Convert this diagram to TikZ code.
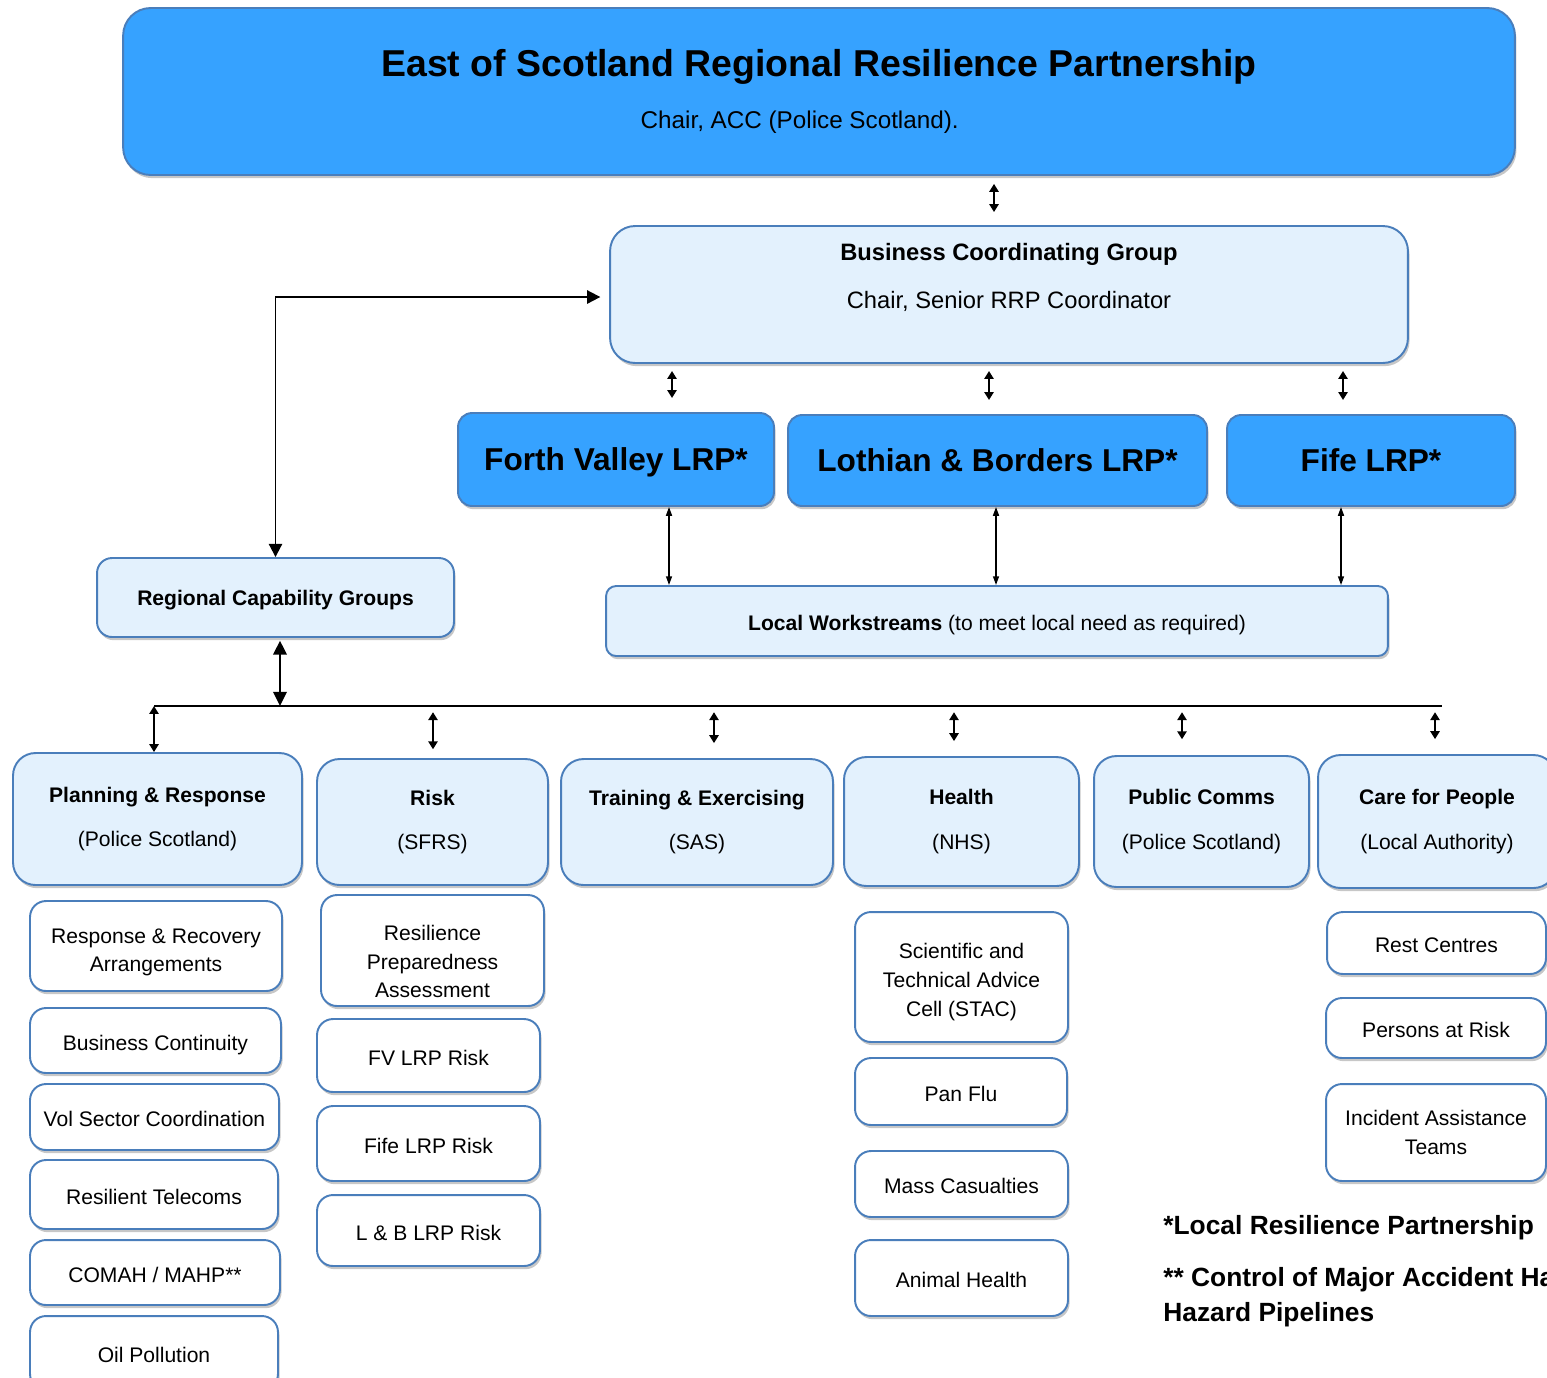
\documentclass[tikz,border=0pt]{standalone}
\usepackage{fontspec}
\setmainfont{Liberation Sans}
\usepackage{tikz}
\usetikzlibrary{arrows.meta,shadows}

\definecolor{darkfill}{HTML}{36A2FF}
\definecolor{lightfill}{HTML}{E3F1FD}
\definecolor{boxline}{HTML}{4A7EBB}

\tikzset{
	box/.style={draw=boxline, line width=1.1pt, align=center, inner sep=0pt,
		drop shadow={shadow xshift=0.9pt, shadow yshift=-1.8pt, fill=black!22, opacity=1},
		font=\fontsize{12}{16.3}\selectfont},
	topbox/.style={box, fill=darkfill},
	lrpbox/.style={box, fill=darkfill, rounded corners=0.28cm, text height=12.9pt, text depth=0pt,
		font=\fontsize{18}{21}\selectfont\bfseries},
	groupbox/.style={box, fill=lightfill, rounded corners=0.45cm},
	taskbox/.style={box, fill=white, rounded corners=0.32cm},
	oneline/.style={text height=11pt, text depth=0pt},
	twoway/.style={>={Triangle[length=4.5pt,width=5.2pt]}, <->, line width=1.4pt},
	thinway/.style={>={Triangle[length=5pt,width=3.4pt]}, <->, line width=0.85pt},
	bigway/.style={>={Triangle[length=8pt,width=7.5pt]}, <->, line width=1.6pt},
	footnote/.style={inner sep=0pt, align=left, font=\fontsize{15}{20}\selectfont\bfseries}
}

\begin{document}
\begin{tikzpicture}[x=0.02cm, y=-0.02cm]
			\useasboundingbox (0,0) rectangle (1547,1377);
			\clip (0,0) rectangle (1547,1377);

			\node[topbox, rounded corners=0.55cm, minimum width=27.84cm, minimum height=3.34cm, font=\fontsize{13.8}{16}\selectfont] (ersp) at (819,91.5)
				{{\fontsize{21.3}{25}\selectfont\bfseries East of Scotland Regional Resilience Partnership}\\[14pt]\hspace*{-22pt}Chair, ACC (Police Scotland).};
			\node[groupbox, rounded corners=0.5cm, minimum width=15.96cm, minimum height=2.74cm, font=\fontsize{13.5}{16}\selectfont] (bcg) at (1009,294.5)
				{\textbf{Business Coordinating Group}\\[11pt]Chair, Senior RRP Coordinator\\[5pt]\mbox{}};

			\node[lrpbox, minimum width=6.32cm, minimum height=1.86cm] (fv) at (616,459.5) {Forth Valley LRP*};
			\node[lrpbox, minimum width=8.38cm, minimum height=1.82cm] (lb) at (997.5,460.5) {Lothian \& Borders LRP*};
			\node[lrpbox, minimum width=5.76cm, minimum height=1.82cm] (fife) at (1371,460.5) {Fife LRP*};

			\node[groupbox, oneline, rounded corners=0.2cm, minimum width=15.64cm, minimum height=1.4cm] (lw) at (997,621)
				{\textbf{Local Workstreams} (to meet local need as required)};
			\node[groupbox, text height=9pt, text depth=0pt, rounded corners=0.3cm, minimum width=7.14cm, minimum height=1.58cm] (rcg) at (275.5,597.5)
				{\textbf{Regional Capability Groups}};

			\node[groupbox, minimum width=5.78cm, minimum height=2.64cm] (pr) at (157.5,819) {\textbf{Planning \& Response}\\[9pt](Police Scotland)};
			\node[groupbox, minimum width=4.62cm, minimum height=2.52cm] (risk) at (432.5,822) {\textbf{Risk}\\[9pt](SFRS)};
			\node[groupbox, minimum width=5.44cm, minimum height=2.52cm] (te) at (697,822) {\textbf{Training \& Exercising}\\[9pt](SAS)};
			\node[groupbox, minimum width=4.7cm, minimum height=2.58cm] (health) at (961.5,821.5) {\textbf{Health}\\[9pt](NHS)};
			\node[groupbox, minimum width=4.3cm, minimum height=2.62cm] (pc) at (1201.5,821.5) {\textbf{Public Comms}\\[9pt](Police Scotland)};
			\node[groupbox, minimum width=4.76cm, minimum height=2.66cm] (care) at (1437,821.5) {\textbf{Care for People}\\[9pt](Local Authority)};

			\node[taskbox, minimum width=5.04cm, minimum height=1.8cm] (rra) at (156,946) {\mbox{}\\[-0.7pt]Response \& Recovery\\Arrangements};
			\node[taskbox, oneline, minimum width=5.02cm, minimum height=1.3cm] (bc) at (155.5,1040.5) {Business Continuity};
			\node[taskbox, oneline, minimum width=4.98cm, minimum height=1.32cm] (vsc) at (154.5,1117) {Vol Sector Coordination};
			\node[taskbox, oneline, minimum width=4.96cm, minimum height=1.38cm] (rt) at (154,1194.5) {Resilient Telecoms};
			\node[taskbox, oneline, minimum width=5cm, minimum height=1.3cm] (comah) at (155,1272.5) {COMAH / MAHP**};
			\node[taskbox, oneline, minimum width=4.96cm, minimum height=1.48cm] (oil) at (154,1353) {Oil Pollution};

			\node[taskbox, minimum width=4.46cm, minimum height=2.22cm] (rpa) at (432.5,950.5) {\mbox{}\\[4.9pt]Resilience\\Preparedness\\Assessment};
			\node[taskbox, oneline, minimum width=4.46cm, minimum height=1.46cm] (fvrisk) at (428.5,1055.5) {FV LRP Risk};
			\node[taskbox, oneline, minimum width=4.46cm, minimum height=1.5cm] (fiferisk) at (428.5,1143.5) {Fife LRP Risk};
			\node[taskbox, oneline, minimum width=4.46cm, minimum height=1.42cm] (lbrisk) at (428.5,1230.5) {L \& B LRP Risk};

			\node[taskbox, minimum width=4.26cm, minimum height=2.6cm] (stac) at (961.5,977) {\mbox{}\\[-1.9pt]Scientific and\\Technical Advice\\Cell (STAC)};
			\node[taskbox, oneline, minimum width=4.24cm, minimum height=1.34cm] (panflu) at (961,1091.5) {Pan Flu};
			\node[taskbox, oneline, minimum width=4.26cm, minimum height=1.32cm] (masscas) at (961.5,1184) {Mass Casualties};
			\node[taskbox, oneline, minimum width=4.26cm, minimum height=1.52cm] (animal) at (961.5,1278) {Animal Health};

			\node[taskbox, oneline, minimum width=4.38cm, minimum height=1.24cm] (rest) at (1436.5,943) {Rest Centres};
			\node[taskbox, oneline, minimum width=4.4cm, minimum height=1.2cm] (par) at (1436,1028) {Persons at Risk};
			\node[taskbox, minimum width=4.4cm, minimum height=1.94cm] (iat) at (1436,1132.5) {Incident Assistance\\Teams};

			\node[footnote, anchor=west] (lrpnote) at (1163,1228) {*Local Resilience Partnership};
			\node[footnote, anchor=north west] (comahnote) at (1163,1267)
				{** Control of Major Accident Hazards / Major Accident\\Hazard Pipelines};

			\draw[twoway, shorten <=4.5pt, shorten >=7.4pt] (ersp.south -| 994,0) -- (bcg.north -| 994,0);
			\foreach \lrp/\x in {fv/672, lb/989, fife/1343}
			\draw[twoway, shorten <=4pt, shorten >=8pt] (bcg.south -| \x,0) -- (\lrp.north -| \x,0);
			\foreach \lrp/\x in {fv/669, lb/996, fife/1341}
			\draw[thinway] (\lrp.south -| \x,0) -- (lw.north -| \x,0);

			\draw[>={Triangle[length=7.5pt,width=7.5pt]}, <->, line width=1.1pt, shorten >=5pt] (rcg.north) |- ([yshift=-0.05cm]bcg.west);

			\coordinate (busL) at (154,706);
			\coordinate (busM) at (280,706);
			\coordinate (busR) at (1442,706);
			\draw[line width=1.3pt] (busL) -- (busR);
			\draw[bigway, shorten <=1.5pt] (rcg.south -| busM) -- (busM);
			\draw[twoway] (busL) -- (pr.north -| busL);
			\foreach \grp/\x/\gap in {risk/433/5pt, te/714/8.5pt, health/954/8.5pt, pc/1182/9pt, care/1435/8.5pt}
			\draw[twoway, shorten <=3.5pt, shorten >=\gap] (busL -| \x,0) -- (\grp.north -| \x,0);
		\end{tikzpicture}
\end{document}
